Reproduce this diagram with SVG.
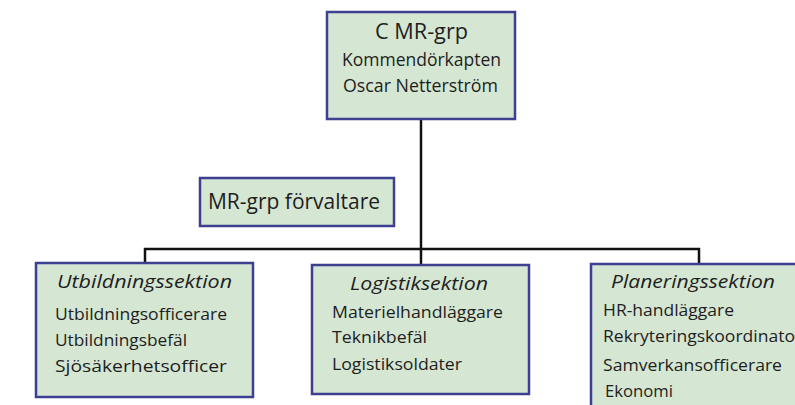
<svg xmlns="http://www.w3.org/2000/svg" width="795" height="405" viewBox="0 0 795 405">
<style>
.box{fill:#d5e6d3;stroke:#3d3f91;stroke-width:2.5}
.con{stroke:#111;stroke-width:2.5;fill:none}
text{font-family:"Open Sans","Noto Sans","Liberation Sans",sans-serif;fill:#1e1e1e;font-weight:500}
.t1{font-size:21px}
.t2{font-size:17.5px}
.h{font-size:18.5px;font-style:italic}
.b{font-size:17px}
</style>
<rect x="0" y="0" width="795" height="405" fill="#ffffff"/>
<g id="connectors">
<path class="con" d="M421 119 V249"/>
<path class="con" d="M145 263 V249 H699 V264"/>
<path class="con" d="M421 249 V265"/>
</g>
<g id="top">
<rect class="box" x="327" y="12" width="188" height="107"/>
<text class="t1" x="375" y="39" textLength="93" lengthAdjust="spacingAndGlyphs">C MR-grp</text>
<text class="t2" x="342" y="66" textLength="159" lengthAdjust="spacingAndGlyphs">Kommendörkapten</text>
<text class="t2" x="343" y="92" textLength="155" lengthAdjust="spacingAndGlyphs">Oscar Netterström</text>
</g>
<g id="forvaltare">
<rect class="box" x="200" y="178" width="194" height="48"/>
<text class="t1" x="208" y="209" textLength="172" lengthAdjust="spacingAndGlyphs">MR-grp förvaltare</text>
</g>
<g id="utbildning">
<rect class="box" x="36" y="263" width="217" height="134"/>
<text class="h" x="57" y="288" textLength="175" lengthAdjust="spacingAndGlyphs">Utbildningssektion</text>
<text class="b" x="55" y="320" textLength="172" lengthAdjust="spacingAndGlyphs">Utbildningsofficerare</text>
<text class="b" x="55" y="346" textLength="132" lengthAdjust="spacingAndGlyphs">Utbildningsbefäl</text>
<text class="b" x="55" y="372" textLength="172" lengthAdjust="spacingAndGlyphs">Sjösäkerhetsofficer</text>
</g>
<g id="logistik">
<rect class="box" x="312" y="265" width="217" height="129"/>
<text class="h" x="350" y="290" textLength="138" lengthAdjust="spacingAndGlyphs">Logistiksektion</text>
<text class="b" x="332" y="318" textLength="171" lengthAdjust="spacingAndGlyphs">Materielhandläggare</text>
<text class="b" x="332" y="343" textLength="95" lengthAdjust="spacingAndGlyphs">Teknikbefäl</text>
<text class="b" x="332" y="370" textLength="130" lengthAdjust="spacingAndGlyphs">Logistiksoldater</text>
</g>
<g id="planering">
<rect class="box" x="591" y="264" width="215" height="150"/>
<text class="h" x="611" y="288" textLength="164" lengthAdjust="spacingAndGlyphs">Planeringssektion</text>
<text class="b" x="603" y="316" textLength="131" lengthAdjust="spacingAndGlyphs">HR-handläggare</text>
<text class="b" x="603" y="342" textLength="192" lengthAdjust="spacingAndGlyphs">Rekryteringskoordinato</text>
<text class="b" x="603" y="371" textLength="179" lengthAdjust="spacingAndGlyphs">Samverkansofficerare</text>
<text class="b" x="605" y="397" textLength="68" lengthAdjust="spacingAndGlyphs">Ekonomi</text>
</g>
</svg>
